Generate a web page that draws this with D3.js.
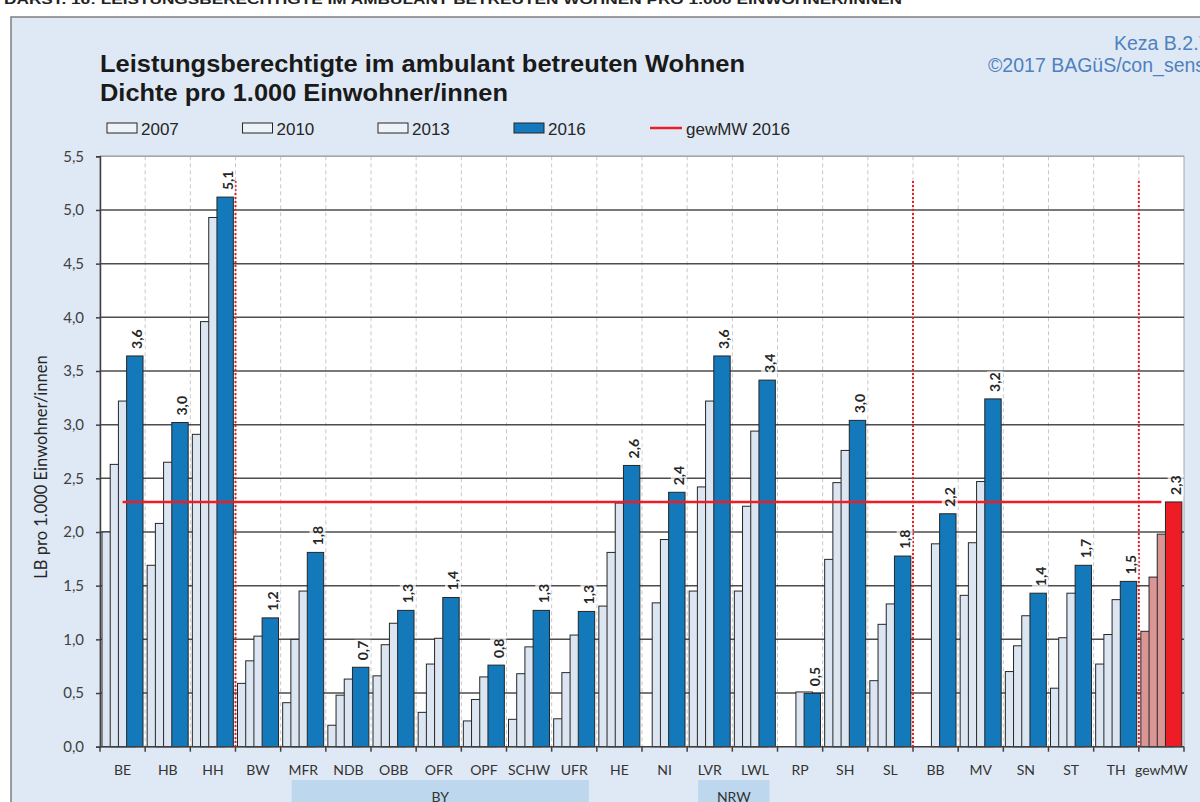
<!DOCTYPE html>
<html>
<head>
<meta charset="utf-8">
<script src="https://cdn.jsdelivr.net/npm/d3@7"></script>
<style>
  html, body { margin: 0; padding: 0; background: #fff; }
  svg { display: block; }
</style>
</head>
<body>
<svg id="chart"></svg>
<script>
// Regionen / Länder
const categories = ["BE", "HB", "HH", "BW", "MFR", "NDB", "OBB", "OFR", "OPF", "SCHW", "UFR",
    "HE", "NI", "LVR", "LWL", "RP", "SH", "SL", "BB", "MV", "SN", "ST", "TH", "gewMW"];
const years = ["2007", "2010", "2013", "2016"];

// LB pro 1.000 Einwohner/innen
const v2007 = [2.00, 1.69, 2.91, 0.59, 0.41, 0.20, 0.66, 0.32, 0.24, 0.255, 0.26, 1.31, null, 1.45, 1.45, null, 1.745, 0.615, null, 1.41, 0.70, 0.545, 0.77, 1.075];
const v2010 = [2.63, 2.08, 3.96, 0.80, 1.00, 0.48, 0.95, 0.77, 0.44, 0.68, 0.69, 1.81, 1.34, 2.42, 2.24, null, 2.46, 1.14, null, 1.90, 0.94, 1.015, 1.045, 1.58];
const v2013 = [3.22, 2.65, 4.93, 1.03, 1.45, 0.63, 1.15, 1.01, 0.65, 0.93, 1.04, 2.27, 1.93, 3.22, 2.94, 0.51, 2.76, 1.33, 1.89, 2.47, 1.22, 1.43, 1.37, 1.98];
const v2016 = [3.64, 3.02, 5.12, 1.20, 1.81, 0.74, 1.27, 1.39, 0.76, 1.27, 1.26, 2.62, 2.37, 3.64, 3.415, 0.497, 3.04, 1.776, 2.17, 3.24, 1.43, 1.69, 1.54, 2.28];
const seriesValues = [v2007, v2010, v2013, v2016];

const yTicks = [0, 0.5, 1, 1.5, 2, 2.5, 3, 3.5, 4, 4.5, 5, 5.5];
const separators = ["BW", "BB", "gewMW"];   // rote Trennlinien davor
const groups = [{name: "BY", from: "MFR", to: "UFR"}, {name: "NRW", from: "LVR", to: "LWL"}];
const meanLabel = "gewMW 2016";

const width = 1200, height = 802;
const plotLeft = 100, plotRight = 1184, plotTop = 156.3, plotBottom = 746.7;

const colLight = "#dce6f2", colBlue = "#1379ba", colPink = "#d99694", colRed = "#ee1c25";

const svg = d3.select("#chart").attr("width", width).attr("height", height);

const x = d3.scaleBand().domain(categories).range([plotLeft, plotRight]);
const y = d3.scaleLinear().domain([0, 5.5]).range([plotBottom, plotTop]);
const off = d3.scalePoint().domain(years).range([0, x.bandwidth() * 0.545]);
const barW = x.bandwidth() * 0.363;
const fmt = d3.formatLocale({decimal: ",", thousands: "."}).format(".1f");

// Header (abgeschnitten oben)
svg.append("text")
    .attr("x", 4).attr("y", 4)
    .attr("font-family", "Liberation Sans Narrow, Arial Narrow, sans-serif")
    .attr("font-weight", "bold").attr("font-size", 13)
    .attr("textLength", 898).attr("lengthAdjust", "spacingAndGlyphs")
    .attr("fill", "#222")
    .text("DARST. 16: LEISTUNGSBERECHTIGTE IM AMBULANT BETREUTEN WOHNEN PRO 1.000 EINWOHNER/INNEN");

// Diagrammbereich
svg.append("rect")
    .attr("x", 11).attr("y", 17).attr("width", 1250).attr("height", 820)
    .attr("fill", "#dfe9f5").attr("stroke", "#7f7f7f").attr("stroke-width", 1.5);

// Titel
const title = svg.append("g")
    .attr("font-family", "Liberation Sans, Arial, sans-serif")
    .attr("font-weight", "bold").attr("font-size", 24).attr("fill", "#1a1a1a");
title.append("text").attr("x", 100).attr("y", 72)
    .attr("textLength", 645).attr("lengthAdjust", "spacingAndGlyphs")
    .text("Leistungsberechtigte im ambulant betreuten Wohnen");
title.append("text").attr("x", 100).attr("y", 101)
    .attr("textLength", 408).attr("lengthAdjust", "spacingAndGlyphs")
    .text("Dichte pro 1.000 Einwohner/innen");

const src = svg.append("g")
    .attr("font-family", "Liberation Sans, Arial, sans-serif")
    .attr("font-size", 19.5).attr("fill", "#4f81bd");
src.append("text").attr("x", 1114).attr("y", 50).text("Keza B.2.7");
src.append("text").attr("x", 988).attr("y", 72).text("©2017 BAGüS/con_sens");

// Legende
const legend = svg.append("g")
    .attr("font-family", "Liberation Sans, Arial, sans-serif")
    .attr("font-size", 17).attr("fill", "#262626");
const legX = [107, 242.5, 378, 514];
years.forEach((yr, i) => {
    legend.append("rect")
        .attr("x", legX[i]).attr("y", 123).attr("width", 30).attr("height", 10)
        .attr("fill", i === 3 ? colBlue : "#eef3f9")
        .attr("stroke", "#262626").attr("stroke-width", 1);
    legend.append("text").attr("x", legX[i] + 34).attr("y", 134.5).text(yr);
});
legend.append("line")
    .attr("x1", 650).attr("x2", 682).attr("y1", 128).attr("y2", 128)
    .attr("stroke", colRed).attr("stroke-width", 2.5);
legend.append("text").attr("x", 686).attr("y", 134.5).text(meanLabel);

// Plotfläche
svg.append("rect")
    .attr("x", plotLeft).attr("y", plotTop).attr("width", plotRight - plotLeft).attr("height", plotBottom - plotTop)
    .attr("fill", "#fff").attr("stroke", "#a6a6a6").attr("stroke-width", 1);

// senkrechte Gitterlinien (gestrichelt)
svg.append("g").selectAll("line")
    .data(categories.slice(1)).enter()
    .append("line")
    .attr("x1", d => x(d)).attr("x2", d => x(d))
    .attr("y1", plotTop).attr("y2", plotBottom)
    .attr("stroke", "#c8c8c8").attr("stroke-width", 1).attr("stroke-dasharray", "4,3");

// waagerechte Gitterlinien
svg.append("g").selectAll("line")
    .data(yTicks.slice(1)).enter()
    .append("line")
    .attr("x1", plotLeft).attr("x2", plotRight)
    .attr("y1", d => y(d)).attr("y2", d => y(d))
    .attr("stroke", d => d === 5.5 ? "#a6a6a6" : "#4d4d4d").attr("stroke-width", 1.5);

// Balken
const bars = svg.append("g");
seriesValues.forEach((vals, s) => {
    bars.append("g").selectAll("rect")
        .data(vals.map((v, i) => ({cat: categories[i], v: v})).filter(d => d.v !== null)).enter()
        .append("rect")
        .attr("x", d => x(d.cat) + 2 + off(years[s]))
        .attr("y", d => y(d.v))
        .attr("width", barW)
        .attr("height", d => y(0) - y(d.v))
        .attr("fill", d => d.cat === "gewMW" ? (s === 3 ? colRed : colPink) : (s === 3 ? colBlue : colLight))
        .attr("stroke", "#262626").attr("stroke-width", 1);
});

// Achsen
const yAxis = svg.append("g")
    .attr("transform", `translate(${plotLeft},0)`)
    .call(d3.axisLeft(y).tickValues(yTicks).tickFormat(fmt).tickSize(4).tickPadding(12));
yAxis.select(".domain").attr("stroke", "#404040").attr("stroke-width", 1.5);
yAxis.selectAll(".tick line").attr("stroke", "#404040").attr("stroke-width", 1.5);
yAxis.selectAll("text")
    .attr("font-family", "Lato, sans-serif").attr("font-size", 15).attr("fill", "#404040");

svg.append("line")
    .attr("x1", plotLeft).attr("x2", plotRight).attr("y1", plotBottom).attr("y2", plotBottom)
    .attr("stroke", "#404040").attr("stroke-width", 1.5);
svg.append("g").selectAll("line")
    .data(categories.concat(["_end"])).enter()
    .append("line")
    .attr("x1", d => d === "_end" ? plotRight : x(d)).attr("x2", d => d === "_end" ? plotRight : x(d))
    .attr("y1", plotBottom).attr("y2", plotBottom + 5)
    .attr("stroke", "#404040").attr("stroke-width", 1.5);

svg.append("g").selectAll("text")
    .data(categories).enter()
    .append("text")
    .attr("x", d => x(d) + x.bandwidth() / 2)
    .attr("y", 775)
    .attr("text-anchor", "middle")
    .attr("font-family", "Lato, sans-serif").attr("font-size", 14).attr("fill", "#333")
    .text(d => d);

svg.append("text")
    .attr("transform", "translate(47,467) rotate(-90)")
    .attr("text-anchor", "middle")
    .attr("font-family", "Lato, sans-serif").attr("font-size", 16.5).attr("fill", "#262626")
    .text("LB pro 1.000 Einwohner/innen");

// Gruppen BY / NRW
const grp = svg.append("g");
groups.forEach(g => {
    const x0 = x(g.from) + 11, x1 = x(g.to) + x.bandwidth() - 8;
    grp.append("rect").attr("x", x0).attr("y", 780).attr("width", x1 - x0).attr("height", 30)
        .attr("fill", "#bdd7ee");
    grp.append("text").attr("x", (x0 + x1) / 2).attr("y", 802)
        .attr("text-anchor", "middle")
        .attr("font-family", "Lato, sans-serif").attr("font-size", 14).attr("fill", "#333")
        .text(g.name);
});

// gewichteter Mittelwert 2016
const mean = v2016[categories.indexOf("gewMW")];
svg.append("line")
    .attr("x1", x(categories[0]) + x.bandwidth() / 2)
    .attr("x2", x("gewMW") + x.bandwidth() / 2)
    .attr("y1", y(mean)).attr("y2", y(mean))
    .attr("stroke", colRed).attr("stroke-width", 2.5);

// rote Trennlinien
svg.append("g").selectAll("line")
    .data(separators).enter()
    .append("line")
    .attr("x1", d => x(d)).attr("x2", d => x(d))
    .attr("y1", y(5.27)).attr("y2", y(0))
    .attr("stroke", colRed).attr("stroke-width", 2).attr("stroke-dasharray", "2,2");

// Datenbeschriftung 2016
const labels = svg.append("g");
v2016.forEach((v, i) => {
    const cx = x(categories[i]) + 2 + off("2016") + barW / 2 + 2;
    const y0 = y(v) - 7;
    const g = labels.append("g").attr("transform", `translate(${cx},${y0}) rotate(-90)`);
    const t = g.append("text")
        .attr("x", 0).attr("y", 0)
        .attr("dominant-baseline", "central")
        .attr("font-family", "Lato, sans-serif").attr("font-weight", "bold")
        .attr("font-size", 14).attr("fill", "#262626")
        .text(fmt(v));
    const len = t.node().getComputedTextLength();
    g.insert("rect", "text")
        .attr("x", -1).attr("y", -8).attr("width", len + 2).attr("height", 16)
        .attr("fill", "#fff").attr("opacity", 0.7);
});
</script>
</body>
</html>
